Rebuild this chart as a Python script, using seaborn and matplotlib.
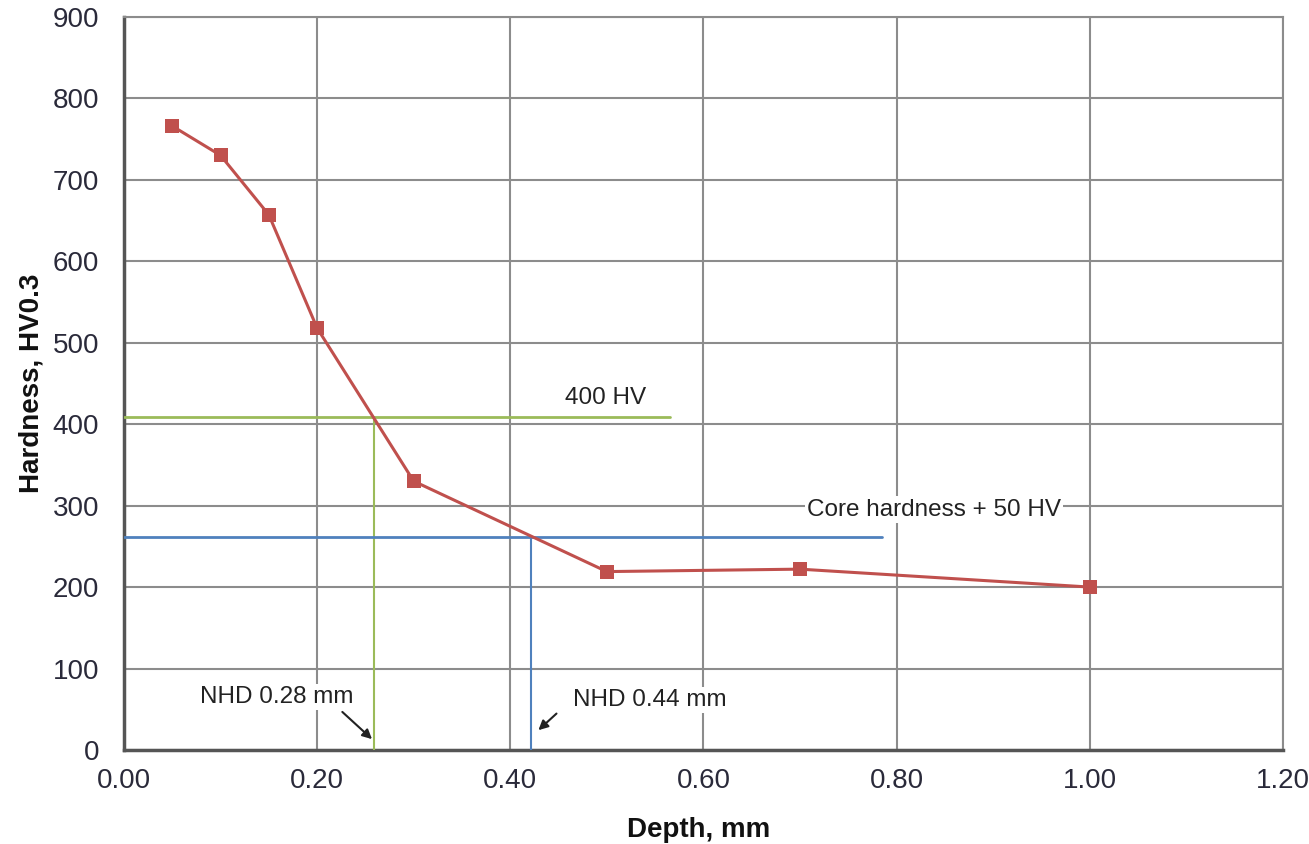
import numpy as np
import pandas as pd
import matplotlib
matplotlib.use("Agg")
import matplotlib.pyplot as plt
import seaborn as sns

# hardness profile
depth_mm = [0.05, 0.10, 0.15, 0.20, 0.30, 0.50, 0.70, 1.00]
hardness_hv = [766, 730, 657, 518, 330, 219, 222, 200]

# NHD limits
limit_400 = 409
nhd_400 = 0.259
limit_core = 262
nhd_core = 0.422
limit_400_end = 0.565
limit_core_end = 0.785

x_ticks = [0.0, 0.2, 0.4, 0.6, 0.8, 1.0, 1.2]
y_ticks = [0, 100, 200, 300, 400, 500, 600, 700, 800, 900]

sns.set_theme(style="whitegrid")
plt.rcParams['font.family'] = ['Liberation Sans', 'DejaVu Sans']

df = pd.DataFrame({"Depth": depth_mm, "Hardness": hardness_hv})

fig = plt.figure(figsize=(13.09, 8.44), dpi=100)
ax = fig.add_axes([0.0947, 0.1114, 0.8853, 0.8686])

sns.lineplot(data=df, x="Depth", y="Hardness", ax=ax, color="#c0504d",
             marker="s", markersize=10.5, markeredgewidth=0, linewidth=2.2, zorder=5)

# threshold lines
green = "#9bbb59"
blue = "#4f81bd"
ax.plot([0, limit_400_end], [limit_400, limit_400], color=green, lw=2, zorder=3)
ax.plot([nhd_400, nhd_400], [0, limit_400], color=green, lw=1.5, zorder=3)
ax.plot([0, limit_core_end], [limit_core, limit_core], color=blue, lw=2, zorder=3)
ax.plot([nhd_core, nhd_core], [0, limit_core], color=blue, lw=1.5, zorder=3)

# labels
lbl = dict(fontsize=17.5, color="#222222", ha="center", va="center", zorder=4,
           bbox=dict(facecolor="white", edgecolor="none", pad=1.5))
ax.text(0.499, 432, "400 HV", **lbl)
ax.text(0.839, 295, "Core hardness + 50 HV", **lbl)
ax.text(0.158, 65, "NHD 0.28 mm", **lbl)
ax.text(0.545, 61, "NHD 0.44 mm", **lbl)

arrow = dict(arrowstyle="-|>", color="#222222", lw=1.5, mutation_scale=14)
ax.annotate("", xy=(0.259, 11), xytext=(0.224, 49), arrowprops=arrow, zorder=6)
ax.annotate("", xy=(0.427, 22), xytext=(0.450, 47), arrowprops=arrow, zorder=6)

ax.set_xlim(0, 1.2)
ax.set_ylim(0, 900)
ax.set_xticks(x_ticks)
ax.set_yticks(y_ticks)
ax.set_xticklabels([f"{t:.2f}" for t in x_ticks])
ax.tick_params(axis="both", labelsize=20, length=0, colors="#2a2a3a")
ax.tick_params(axis="y", pad=18)
ax.tick_params(axis="x", pad=13)
ax.grid(True, color="#8c8c8c", lw=1.5)
ax.set_axisbelow(True)

for side in ["top", "right"]:
    ax.spines[side].set_color("#8c8c8c")
    ax.spines[side].set_linewidth(1.5)
for side in ["left", "bottom"]:
    ax.spines[side].set_color("#555555")
    ax.spines[side].set_linewidth(2.5)

ax.set_xlabel("Depth, mm", fontsize=20, fontweight="bold", color="#111111")
ax.set_ylabel("Hardness, HV0.3", fontsize=20, fontweight="bold", color="#111111")
ax.xaxis.set_label_coords(0.496, -0.092)
ax.yaxis.set_label_coords(-0.069, 0.5)

fig.savefig("out.png", dpi=100)
